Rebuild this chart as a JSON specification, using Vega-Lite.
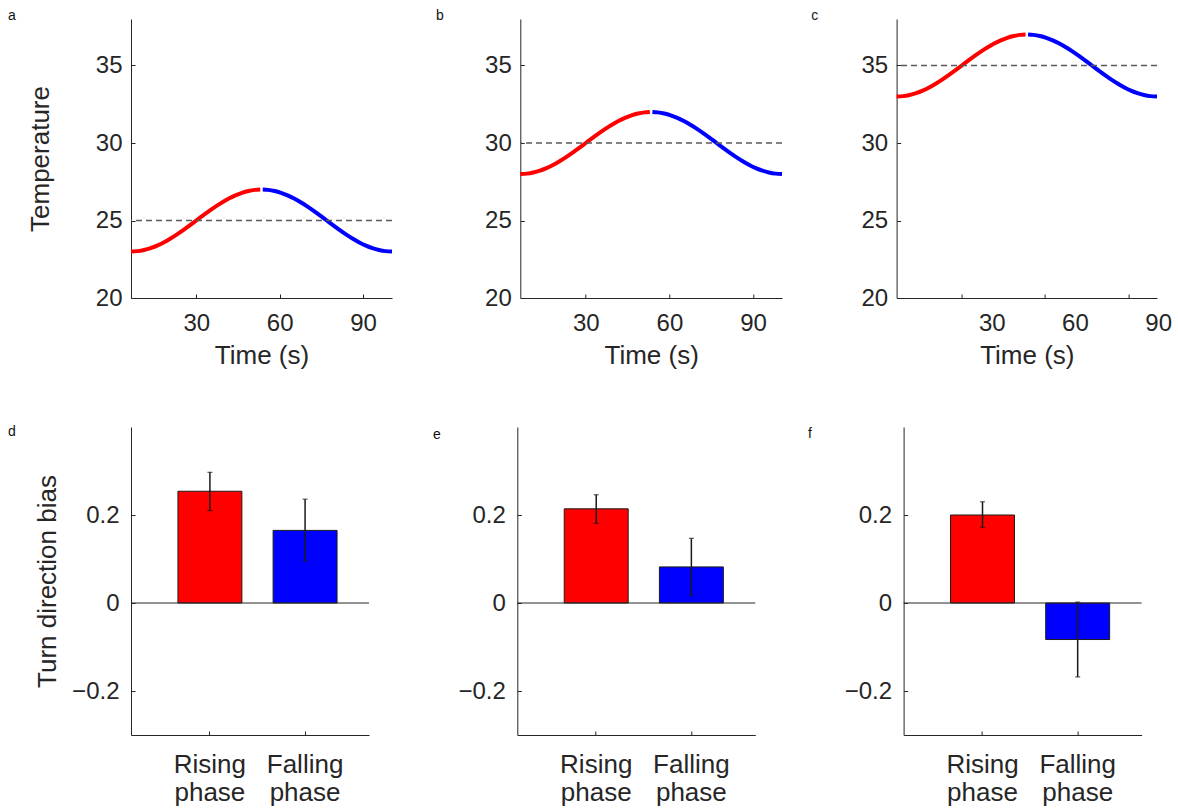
{
  "$schema": "https://vega.github.io/schema/vega-lite/v6.json",
  "background": "white",
  "padding": {"left": 8, "top": 9, "right": 0, "bottom": 0},
  "datasets": {
    "temp": [
      {"t": 6.5, "phase": "Rising phase", "a": 23.0, "b": 28.0, "c": 33.0},
      {"t": 8.85, "phase": "Rising phase", "a": 23.025, "b": 28.025, "c": 33.025},
      {"t": 11.2, "phase": "Rising phase", "a": 23.098, "b": 28.098, "c": 33.098},
      {"t": 13.54, "phase": "Rising phase", "a": 23.218, "b": 28.218, "c": 33.218},
      {"t": 15.89, "phase": "Rising phase", "a": 23.382, "b": 28.382, "c": 33.382},
      {"t": 18.24, "phase": "Rising phase", "a": 23.586, "b": 28.586, "c": 33.586},
      {"t": 20.59, "phase": "Rising phase", "a": 23.824, "b": 28.824, "c": 33.824},
      {"t": 22.93, "phase": "Rising phase", "a": 24.092, "b": 29.092, "c": 34.092},
      {"t": 25.28, "phase": "Rising phase", "a": 24.382, "b": 29.382, "c": 34.382},
      {"t": 27.63, "phase": "Rising phase", "a": 24.687, "b": 29.687, "c": 34.687},
      {"t": 29.98, "phase": "Rising phase", "a": 25.0, "b": 30.0, "c": 35.0},
      {"t": 32.32, "phase": "Rising phase", "a": 25.313, "b": 30.313, "c": 35.313},
      {"t": 34.67, "phase": "Rising phase", "a": 25.618, "b": 30.618, "c": 35.618},
      {"t": 37.02, "phase": "Rising phase", "a": 25.908, "b": 30.908, "c": 35.908},
      {"t": 39.37, "phase": "Rising phase", "a": 26.176, "b": 31.176, "c": 36.176},
      {"t": 41.71, "phase": "Rising phase", "a": 26.414, "b": 31.414, "c": 36.414},
      {"t": 44.06, "phase": "Rising phase", "a": 26.618, "b": 31.618, "c": 36.618},
      {"t": 46.41, "phase": "Rising phase", "a": 26.782, "b": 31.782, "c": 36.782},
      {"t": 48.76, "phase": "Rising phase", "a": 26.902, "b": 31.902, "c": 36.902},
      {"t": 51.1, "phase": "Rising phase", "a": 26.975, "b": 31.975, "c": 36.975},
      {"t": 53.0, "phase": "Rising phase", "a": 27.0, "b": 32.0, "c": 37.0},
      {"t": 53.9, "phase": "Falling phase", "a": 27.0, "b": 32.0, "c": 37.0},
      {"t": 55.8, "phase": "Falling phase", "a": 26.975, "b": 31.975, "c": 36.975},
      {"t": 58.15, "phase": "Falling phase", "a": 26.902, "b": 31.902, "c": 36.902},
      {"t": 60.49, "phase": "Falling phase", "a": 26.782, "b": 31.782, "c": 36.782},
      {"t": 62.84, "phase": "Falling phase", "a": 26.618, "b": 31.618, "c": 36.618},
      {"t": 65.19, "phase": "Falling phase", "a": 26.414, "b": 31.414, "c": 36.414},
      {"t": 67.54, "phase": "Falling phase", "a": 26.176, "b": 31.176, "c": 36.176},
      {"t": 69.88, "phase": "Falling phase", "a": 25.908, "b": 30.908, "c": 35.908},
      {"t": 72.23, "phase": "Falling phase", "a": 25.618, "b": 30.618, "c": 35.618},
      {"t": 74.58, "phase": "Falling phase", "a": 25.313, "b": 30.313, "c": 35.313},
      {"t": 76.93, "phase": "Falling phase", "a": 25.0, "b": 30.0, "c": 35.0},
      {"t": 79.27, "phase": "Falling phase", "a": 24.687, "b": 29.687, "c": 34.687},
      {"t": 81.62, "phase": "Falling phase", "a": 24.382, "b": 29.382, "c": 34.382},
      {"t": 83.97, "phase": "Falling phase", "a": 24.092, "b": 29.092, "c": 34.092},
      {"t": 86.32, "phase": "Falling phase", "a": 23.824, "b": 28.824, "c": 33.824},
      {"t": 88.66, "phase": "Falling phase", "a": 23.586, "b": 28.586, "c": 33.586},
      {"t": 91.01, "phase": "Falling phase", "a": 23.382, "b": 28.382, "c": 33.382},
      {"t": 93.36, "phase": "Falling phase", "a": 23.218, "b": 28.218, "c": 33.218},
      {"t": 95.71, "phase": "Falling phase", "a": 23.098, "b": 28.098, "c": 33.098},
      {"t": 98.05, "phase": "Falling phase", "a": 23.025, "b": 28.025, "c": 33.025},
      {"t": 100.4, "phase": "Falling phase", "a": 23.0, "b": 28.0, "c": 33.0}
    ],
    "bias": [
      {"panel": "d", "phase": "Rising phase", "v": 0.254, "lo": 0.21, "hi": 0.297},
      {"panel": "d", "phase": "Falling phase", "v": 0.165, "lo": 0.095, "hi": 0.236},
      {"panel": "e", "phase": "Rising phase", "v": 0.214, "lo": 0.181, "hi": 0.246},
      {"panel": "e", "phase": "Falling phase", "v": 0.082, "lo": 0.017, "hi": 0.147},
      {"panel": "f", "phase": "Rising phase", "v": 0.2, "lo": 0.172, "hi": 0.23},
      {"panel": "f", "phase": "Falling phase", "v": -0.083, "lo": -0.168, "hi": 0.002}
    ]
  },
  "vconcat": [
    {
      "bounds": "full",
      "spacing": 35.3,
      "hconcat": [
        {
          "width": 261, "height": 279,
          "title": {"text": "a", "dx": -123, "dy": 8},
          "layer": [
            {"data": {"name": "temp"}, "mark": {"type": "line", "strokeWidth": 4, "interpolate": "monotone", "strokeCap": "butt"},
             "encoding": {
               "x": {"field": "t", "type": "quantitative", "scale": {"domain": [6.5, 100.4], "nice": false, "zero": false}, "axis": {"values": [30, 60, 90], "title": "Time (s)"}},
               "y": {"field": "a", "type": "quantitative", "scale": {"domain": [20, 38], "nice": false, "zero": false}, "axis": {"values": [20, 25, 30, 35], "title": "Temperature", "titlePadding": 42}},
               "color": {"field": "phase", "type": "nominal", "scale": {"domain": ["Rising phase", "Falling phase"], "range": ["#ff0000", "#0000ff"]}, "legend": null}}},
            {"data": {"values": [{"m": 25}]}, "mark": {"type": "rule", "strokeDash": [6, 4], "color": "#5a5a5a", "strokeWidth": 1.5},
             "encoding": {"y": {"field": "m", "type": "quantitative", "title": "Temperature"}}}
          ]
        },
        {
          "bounds": "flush",
          "spacing": 114.3,
          "hconcat": [
            {
              "width": 261.7, "height": 279,
              "title": {"text": "b", "dx": -84.3, "dy": 8},
              "layer": [
                {"data": {"name": "temp"}, "mark": {"type": "line", "strokeWidth": 4, "interpolate": "monotone", "strokeCap": "butt"},
                 "encoding": {
                   "x": {"field": "t", "type": "quantitative", "scale": {"domain": [6.5, 100.4], "nice": false, "zero": false}, "axis": {"values": [30, 60, 90], "title": "Time (s)"}},
                   "y": {"field": "b", "type": "quantitative", "title": null, "scale": {"domain": [20, 38], "nice": false, "zero": false}, "axis": {"values": [20, 25, 30, 35]}},
                   "color": {"field": "phase", "type": "nominal", "scale": {"domain": ["Rising phase", "Falling phase"], "range": ["#ff0000", "#0000ff"]}, "legend": null}}},
                {"data": {"values": [{"m": 30}]}, "mark": {"type": "rule", "strokeDash": [6, 4], "color": "#5a5a5a", "strokeWidth": 1.5},
                 "encoding": {"y": {"field": "m", "type": "quantitative", "title": null}}}
              ]
            },
            {
              "width": 260.4, "height": 279,
              "title": {"text": "c", "dx": -85.3, "dy": 8},
              "layer": [
                {"data": {"name": "temp"}, "mark": {"type": "line", "strokeWidth": 4, "interpolate": "monotone", "strokeCap": "butt"},
                 "encoding": {
                   "x": {"field": "t", "type": "quantitative", "scale": {"domain": [6.5, 100.4], "nice": false, "zero": false}, "axis": {"values": [30, 60, 90], "title": "Time (s)", "labelOffset": 30}},
                   "y": {"field": "c", "type": "quantitative", "title": null, "scale": {"domain": [20, 38], "nice": false, "zero": false}, "axis": {"values": [20, 25, 30, 35]}},
                   "color": {"field": "phase", "type": "nominal", "scale": {"domain": ["Rising phase", "Falling phase"], "range": ["#ff0000", "#0000ff"]}, "legend": null}}},
                {"data": {"values": [{"m": 35}]}, "mark": {"type": "rule", "strokeDash": [6, 4], "color": "#5a5a5a", "strokeWidth": 1.5},
                 "encoding": {"y": {"field": "m", "type": "quantitative", "title": null}}}
              ]
            }
          ]
        }
      ]
    },
    {
      "bounds": "flush",
      "spacing": 148.3,
      "hconcat": [
        {
          "width": 238, "height": 308,
          "title": {"text": "d", "dx": -123, "dy": 16},
          "layer": [
            {"data": {"name": "bias"}, "transform": [{"filter": "datum.panel === 'd'"}],
             "mark": {"type": "bar", "stroke": "#1a1a1a", "strokeWidth": 1},
             "encoding": {
               "x": {"field": "phase", "type": "nominal", "title": null, "sort": ["Rising phase", "Falling phase"], "scale": {"paddingInner": 0.328, "paddingOuter": 0.4145, "align": 0.595},
                     "axis": {"labelExpr": "split(datum.label, ' ')", "labelFontSize": 26, "labelLineHeight": 28, "labelAngle": 0, "labelPadding": 20.4}},
               "y": {"field": "v", "type": "quantitative", "title": "Turn direction bias", "scale": {"domain": [-0.3, 0.4], "nice": false, "zero": false},
                     "axis": {"values": [-0.2, 0, 0.2], "format": "~g", "titlePadding": 11, "labelPadding": 16}},
               "color": {"field": "phase", "type": "nominal", "scale": {"domain": ["Rising phase", "Falling phase"], "range": ["#ff0000", "#0000ff"]}, "legend": null}}},
            {"data": {"name": "bias"}, "transform": [{"filter": "datum.panel === 'd'"}],
             "mark": {"type": "rule", "color": "#1a1a1a", "strokeWidth": 1.5},
             "encoding": {
               "x": {"field": "phase", "type": "nominal", "title": null, "sort": ["Rising phase", "Falling phase"]},
               "y": {"field": "lo", "type": "quantitative", "title": "Turn direction bias"},
               "y2": {"field": "hi"}}},
            {"data": {"name": "bias"}, "transform": [{"filter": "datum.panel === 'd'"}],
             "mark": {"type": "tick", "color": "#1a1a1a", "thickness": 1.2, "size": 5},
             "encoding": {
               "x": {"field": "phase", "type": "nominal", "title": null, "sort": ["Rising phase", "Falling phase"]},
               "y": {"field": "hi", "type": "quantitative", "title": "Turn direction bias"}}},
            {"data": {"name": "bias"}, "transform": [{"filter": "datum.panel === 'd'"}],
             "mark": {"type": "tick", "color": "#1a1a1a", "thickness": 1.2, "size": 5},
             "encoding": {
               "x": {"field": "phase", "type": "nominal", "title": null, "sort": ["Rising phase", "Falling phase"]},
               "y": {"field": "lo", "type": "quantitative", "title": "Turn direction bias"}}},
            {"data": {"values": [{"z": 0}]}, "mark": {"type": "rule", "color": "#262626", "strokeWidth": 1},
             "encoding": {"y": {"field": "z", "type": "quantitative", "title": "Turn direction bias"}}}
          ]
        },
        {
          "width": 238, "height": 308,
          "title": {"text": "e", "dx": -84.3, "dy": 19},
          "layer": [
            {"data": {"name": "bias"}, "transform": [{"filter": "datum.panel === 'e'"}],
             "mark": {"type": "bar", "stroke": "#1a1a1a", "strokeWidth": 1},
             "encoding": {
               "x": {"field": "phase", "type": "nominal", "title": null, "sort": ["Rising phase", "Falling phase"], "scale": {"paddingInner": 0.328, "paddingOuter": 0.4145, "align": 0.595},
                     "axis": {"labelExpr": "split(datum.label, ' ')", "labelFontSize": 26, "labelLineHeight": 28, "labelAngle": 0, "labelPadding": 20.4}},
               "y": {"field": "v", "type": "quantitative", "title": null, "scale": {"domain": [-0.3, 0.4], "nice": false, "zero": false},
                     "axis": {"values": [-0.2, 0, 0.2], "format": "~g", "labelPadding": 16}},
               "color": {"field": "phase", "type": "nominal", "scale": {"domain": ["Rising phase", "Falling phase"], "range": ["#ff0000", "#0000ff"]}, "legend": null}}},
            {"data": {"name": "bias"}, "transform": [{"filter": "datum.panel === 'e'"}],
             "mark": {"type": "rule", "color": "#1a1a1a", "strokeWidth": 1.5},
             "encoding": {
               "x": {"field": "phase", "type": "nominal", "title": null, "sort": ["Rising phase", "Falling phase"]},
               "y": {"field": "lo", "type": "quantitative", "title": null},
               "y2": {"field": "hi"}}},
            {"data": {"name": "bias"}, "transform": [{"filter": "datum.panel === 'e'"}],
             "mark": {"type": "tick", "color": "#1a1a1a", "thickness": 1.2, "size": 5},
             "encoding": {
               "x": {"field": "phase", "type": "nominal", "title": null, "sort": ["Rising phase", "Falling phase"]},
               "y": {"field": "hi", "type": "quantitative", "title": null}}},
            {"data": {"name": "bias"}, "transform": [{"filter": "datum.panel === 'e'"}],
             "mark": {"type": "tick", "color": "#1a1a1a", "thickness": 1.2, "size": 5},
             "encoding": {
               "x": {"field": "phase", "type": "nominal", "title": null, "sort": ["Rising phase", "Falling phase"]},
               "y": {"field": "lo", "type": "quantitative", "title": null}}},
            {"data": {"values": [{"z": 0}]}, "mark": {"type": "rule", "color": "#262626", "strokeWidth": 1},
             "encoding": {"y": {"field": "z", "type": "quantitative", "title": null}}}
          ]
        },
        {
          "width": 238, "height": 308,
          "title": {"text": "f", "dx": -95.6, "dy": 18},
          "layer": [
            {"data": {"name": "bias"}, "transform": [{"filter": "datum.panel === 'f'"}],
             "mark": {"type": "bar", "stroke": "#1a1a1a", "strokeWidth": 1},
             "encoding": {
               "x": {"field": "phase", "type": "nominal", "title": null, "sort": ["Rising phase", "Falling phase"], "scale": {"paddingInner": 0.328, "paddingOuter": 0.4145, "align": 0.595},
                     "axis": {"labelExpr": "split(datum.label, ' ')", "labelFontSize": 26, "labelLineHeight": 28, "labelAngle": 0, "labelPadding": 20.4}},
               "y": {"field": "v", "type": "quantitative", "title": null, "scale": {"domain": [-0.3, 0.4], "nice": false, "zero": false},
                     "axis": {"values": [-0.2, 0, 0.2], "format": "~g", "labelPadding": 16}},
               "color": {"field": "phase", "type": "nominal", "scale": {"domain": ["Rising phase", "Falling phase"], "range": ["#ff0000", "#0000ff"]}, "legend": null}}},
            {"data": {"name": "bias"}, "transform": [{"filter": "datum.panel === 'f'"}],
             "mark": {"type": "rule", "color": "#1a1a1a", "strokeWidth": 1.5},
             "encoding": {
               "x": {"field": "phase", "type": "nominal", "title": null, "sort": ["Rising phase", "Falling phase"]},
               "y": {"field": "lo", "type": "quantitative", "title": null},
               "y2": {"field": "hi"}}},
            {"data": {"name": "bias"}, "transform": [{"filter": "datum.panel === 'f'"}],
             "mark": {"type": "tick", "color": "#1a1a1a", "thickness": 1.2, "size": 5},
             "encoding": {
               "x": {"field": "phase", "type": "nominal", "title": null, "sort": ["Rising phase", "Falling phase"]},
               "y": {"field": "hi", "type": "quantitative", "title": null}}},
            {"data": {"name": "bias"}, "transform": [{"filter": "datum.panel === 'f'"}],
             "mark": {"type": "tick", "color": "#1a1a1a", "thickness": 1.2, "size": 5},
             "encoding": {
               "x": {"field": "phase", "type": "nominal", "title": null, "sort": ["Rising phase", "Falling phase"]},
               "y": {"field": "lo", "type": "quantitative", "title": null}}},
            {"data": {"values": [{"z": 0}]}, "mark": {"type": "rule", "color": "#262626", "strokeWidth": 1},
             "encoding": {"y": {"field": "z", "type": "quantitative", "title": null}}}
          ]
        }
      ]
    }
  ],
  "spacing": 57,
  "bounds": "full",
  "config": {
    "view": {"stroke": null},
    "axis": {
      "labelFont": "Liberation Sans", "titleFont": "Liberation Sans",
      "labelFontSize": 24, "titleFontSize": 26, "titleFontWeight": "normal",
      "labelColor": "#262626", "titleColor": "#262626",
      "domainColor": "#262626", "tickColor": "#262626", "domainWidth": 1, "tickWidth": 1,
      "tickSize": -4, "grid": false, "labelFlush": false, "labelOverlap": false
    },
    "axisX": {"labelPadding": 17.5, "titlePadding": 6.5},
    "axisY": {"labelPadding": 13},
    "title": {"font": "Liberation Sans", "fontSize": 14, "fontWeight": "normal", "anchor": "start", "frame": "group", "offset": 0, "baseline": "alphabetic", "color": "#111111"}
  }
}
